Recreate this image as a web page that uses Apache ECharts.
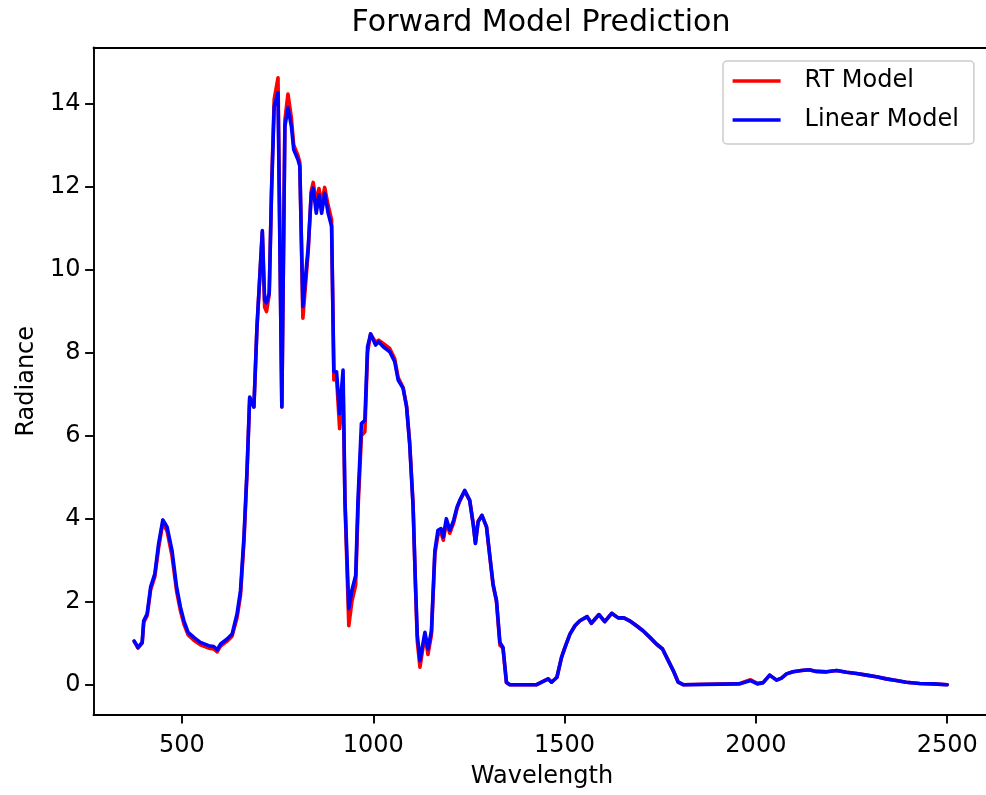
<!DOCTYPE html>
<html>
<head>
<meta charset="utf-8">
<script src="https://cdn.jsdelivr.net/npm/echarts@6/dist/echarts.min.js"></script>
<style>
  html, body { margin: 0; padding: 0; background: #fff; }
  #chart { width: 986px; height: 795px; }
</style>
</head>
<body>
<div id="chart"></div>
<script>
// Spectral samples (nm) shared by both models
const wavelengths = [
  375, 385, 396, 400, 409, 418, 429, 439, 450, 461, 474, 486, 496, 505, 516, 531, 548, 570, 583, 592,
  601, 618, 631, 644, 653, 662, 670, 677, 688, 696, 710, 716, 721, 728, 734, 741, 751, 761, 769, 777,
  786, 792, 803, 808, 816, 830, 838, 843, 851, 858, 865, 873, 882, 891, 897, 904, 912, 921, 926, 936,
  944, 954, 960, 969, 978, 985, 993, 1006, 1014, 1026, 1043, 1056, 1065, 1078, 1087, 1095, 1104, 1110, 1115, 1122,
  1135, 1143, 1152, 1161, 1169, 1177, 1183, 1191, 1200, 1210, 1219, 1226, 1239, 1252, 1261, 1267, 1274, 1284, 1296, 1305,
  1313, 1322, 1331, 1339, 1348, 1357, 1427, 1457, 1466, 1480, 1492, 1501, 1514, 1527, 1540, 1559, 1570, 1590, 1605, 1623,
  1640, 1655, 1670, 1688, 1705, 1723, 1740, 1756, 1771, 1784, 1797, 1810, 1958, 1986, 2004, 2019, 2036, 2054, 2067, 2080,
  2097, 2119, 2139, 2158, 2185, 2211, 2237, 2263, 2289, 2315, 2341, 2367, 2393, 2428, 2463, 2500
];

// Radiative-transfer model radiance
const rtModel = [
  1.05, 0.88, 1.00, 1.50, 1.66, 2.28, 2.60, 3.30, 3.90, 3.70, 3.10, 2.25, 1.78, 1.46, 1.20, 1.07, 0.96, 0.88, 0.86, 0.79,
  0.93, 1.05, 1.17, 1.62, 2.15, 3.45, 5.10, 6.90, 6.69, 8.60, 10.90, 9.10, 8.99, 9.40, 11.90, 14.10, 14.62, 6.69, 13.60, 14.23,
  13.65, 13.00, 12.75, 12.58, 8.83, 10.45, 11.90, 12.10, 11.60, 11.95, 11.60, 11.98, 11.55, 11.20, 7.34, 7.40, 6.17, 7.20, 4.40, 1.42,
  2.00, 2.40, 4.20, 6.00, 6.09, 8.00, 8.45, 8.25, 8.30, 8.22, 8.10, 7.85, 7.40, 7.16, 6.72, 5.85, 4.35, 2.45, 1.05, 0.42,
  1.20, 0.73, 1.20, 3.15, 3.60, 3.66, 3.48, 3.90, 3.65, 3.90, 4.25, 4.42, 4.66, 4.44, 3.88, 3.42, 3.94, 4.08, 3.80, 3.05,
  2.40, 2.00, 0.95, 0.88, 0.05, 0.00, 0.00, 0.14, 0.06, 0.18, 0.66, 0.90, 1.22, 1.42, 1.54, 1.64, 1.48, 1.69, 1.52, 1.72,
  1.61, 1.61, 1.54, 1.42, 1.30, 1.14, 0.98, 0.86, 0.58, 0.34, 0.06, 0.00, 0.03, 0.12, 0.03, 0.05, 0.23, 0.11, 0.16, 0.26,
  0.31, 0.34, 0.36, 0.32, 0.31, 0.34, 0.30, 0.27, 0.23, 0.19, 0.14, 0.10, 0.06, 0.03, 0.02, 0.00
];

// Linear surrogate model radiance
const linearModel = [
  1.05, 0.90, 1.02, 1.54, 1.71, 2.35, 2.67, 3.40, 3.97, 3.80, 3.23, 2.35, 1.87, 1.54, 1.26, 1.14, 1.02, 0.94, 0.92, 0.84,
  0.98, 1.10, 1.22, 1.71, 2.27, 3.56, 5.17, 6.93, 6.69, 8.62, 10.94, 9.27, 9.20, 9.43, 11.84, 13.93, 14.26, 6.69, 13.45, 13.90,
  13.45, 12.89, 12.65, 12.49, 9.11, 10.55, 11.84, 11.96, 11.36, 11.80, 11.36, 11.84, 11.36, 11.04, 7.54, 7.54, 6.53, 7.58, 4.44, 1.83,
  2.27, 2.63, 4.44, 6.29, 6.37, 8.14, 8.45, 8.18, 8.26, 8.14, 8.02, 7.78, 7.34, 7.14, 6.69, 5.81, 4.30, 2.50, 1.20, 0.58,
  1.26, 0.86, 1.30, 3.23, 3.72, 3.76, 3.56, 4.00, 3.72, 3.96, 4.28, 4.44, 4.68, 4.44, 3.88, 3.40, 3.92, 4.08, 3.80, 3.07,
  2.43, 2.03, 1.02, 0.90, 0.06, 0.00, 0.00, 0.14, 0.06, 0.18, 0.66, 0.90, 1.22, 1.42, 1.54, 1.64, 1.48, 1.69, 1.52, 1.72,
  1.61, 1.61, 1.54, 1.42, 1.30, 1.14, 0.98, 0.86, 0.58, 0.34, 0.06, 0.00, 0.02, 0.10, 0.02, 0.05, 0.23, 0.11, 0.16, 0.26,
  0.31, 0.34, 0.36, 0.32, 0.31, 0.34, 0.30, 0.27, 0.23, 0.19, 0.14, 0.10, 0.06, 0.03, 0.02, 0.00
];

const xTicks = [500, 1000, 1500, 2000, 2500];
const yTicks = [0, 2, 4, 6, 8, 10, 12, 14];

const FONT = 'DejaVu Sans';
const X_MIN = 268.75, X_MAX = 2613.2;
const pairs = ys => wavelengths.map((w, i) => [w, ys[i]]);
const spine = { show: true, onZero: false, lineStyle: { color: '#000', width: 1.9 } };

const chart = echarts.init(document.getElementById('chart'), null, { renderer: 'canvas' });

chart.setOption({
  animation: false,
  backgroundColor: '#ffffff',
  textStyle: { fontFamily: FONT },
  graphic: [{
    type: 'text',
    x: 541,
    y: 23,
    style: {
      text: 'Forward Model Prediction',
      fontFamily: FONT,
      fontSize: 30,
      fill: '#000',
      textAlign: 'center',
      textVerticalAlign: 'middle'
    }
  }],
  grid: {
    left: 93.5,
    top: 47.5,
    width: 897,
    height: 667.5,
    outerBoundsMode: 'none',
    containLabel: false,
    show: false
  },
  legend: {
    orient: 'vertical',
    left: 723,
    top: 61,
    padding: [6, 15, 10, 9.6],
    itemGap: 11,
    itemWidth: 48,
    itemHeight: 3.6,
    backgroundColor: 'rgba(255,255,255,0.8)',
    borderColor: '#cccccc',
    borderWidth: 1.5,
    borderRadius: 4,
    textStyle: {
      fontFamily: FONT,
      fontSize: 24,
      color: '#000',
      lineHeight: 28,
      padding: [0, 0, 0, 19]
    },
    data: [
      { name: 'RT Model', icon: 'rect' },
      { name: 'Linear Model', icon: 'rect' }
    ]
  },
  xAxis: [
    {
      type: 'value',
      min: X_MIN,
      max: X_MAX,
      name: 'Wavelength',
      nameLocation: 'middle',
      nameGap: 50,
      nameTextStyle: { fontFamily: FONT, fontSize: 24, color: '#000' },
      axisLine: spine,
      axisTick: { show: true, length: 8.4, lineStyle: { color: '#000', width: 1.9 }, customValues: xTicks },
      axisLabel: {
        fontFamily: FONT, fontSize: 24, color: '#000', margin: 19,
        customValues: xTicks,
        formatter: v => String(v)
      },
      splitLine: { show: false }
    },
    {
      // top frame edge
      type: 'value',
      position: 'top',
      min: X_MIN,
      max: X_MAX,
      axisLine: spine,
      axisTick: { show: false },
      axisLabel: { show: false },
      splitLine: { show: false }
    }
  ],
  yAxis: {
    type: 'value',
    min: -0.73,
    max: 15.35,
    name: 'Radiance',
    nameLocation: 'middle',
    nameRotate: 90,
    nameGap: 51,
    nameTextStyle: { fontFamily: FONT, fontSize: 24, color: '#000' },
    axisLine: spine,
    axisTick: { show: true, length: 8.4, lineStyle: { color: '#000', width: 1.9 }, customValues: yTicks },
    axisLabel: {
      fontFamily: FONT, fontSize: 24, color: '#000', margin: 13,
      customValues: yTicks,
      formatter: v => String(v)
    },
    splitLine: { show: false }
  },
  series: [
    {
      name: 'RT Model',
      type: 'line',
      data: pairs(rtModel),
      showSymbol: false,
      color: '#ff0000',
      lineStyle: { color: '#ff0000', width: 3.6, join: 'round', cap: 'round' },
      z: 2
    },
    {
      name: 'Linear Model',
      type: 'line',
      data: pairs(linearModel),
      showSymbol: false,
      color: '#0000ff',
      lineStyle: { color: '#0000ff', width: 3.6, join: 'round', cap: 'round' },
      z: 3
    }
  ]
});
</script>
</body>
</html>
